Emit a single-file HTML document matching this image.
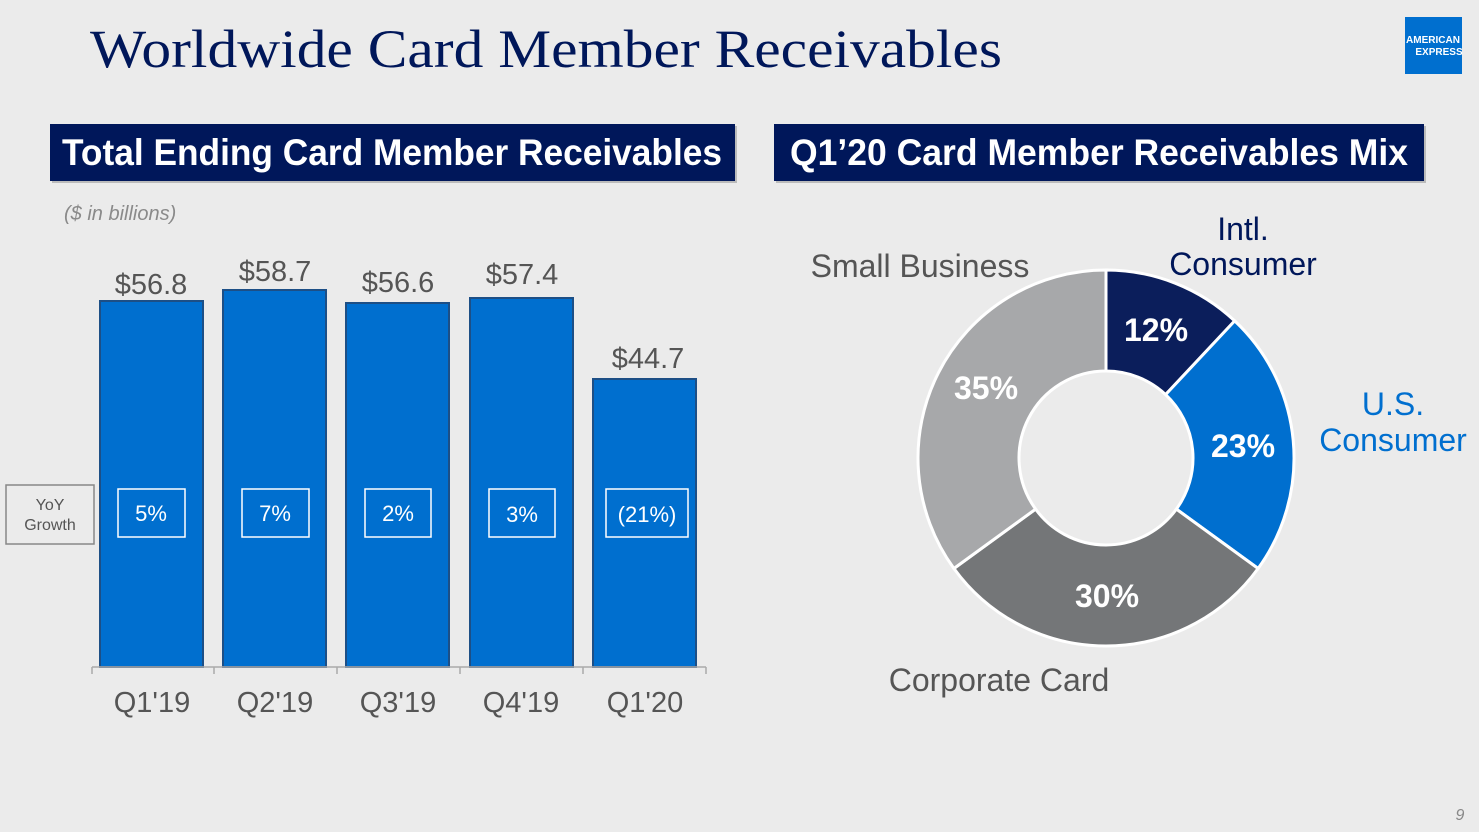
<!DOCTYPE html>
<html><head><meta charset="utf-8"><style>
body{margin:0;background:#ebebeb;}
svg{display:block}
</style></head><body>
<svg width="1479" height="832" viewBox="0 0 1479 832" xmlns="http://www.w3.org/2000/svg">
<rect width="1479" height="832" fill="#ebebeb"/>
<text x="90" y="67" font-family="Liberation Serif, serif" font-size="54" fill="#00175a" textLength="912" lengthAdjust="spacingAndGlyphs">Worldwide Card Member Receivables</text>
<rect x="1405" y="17" width="57" height="57" fill="#006fcf"/>
<text x="1433" y="43" font-family="Liberation Sans, sans-serif" font-size="10" font-weight="bold" fill="#fff" text-anchor="middle">AMERICAN</text>
<text x="1439" y="55" font-family="Liberation Sans, sans-serif" font-size="10" font-weight="bold" fill="#fff" text-anchor="middle">EXPRESS</text>
<rect x="52" y="126" width="685" height="57" fill="#bbb"/>
<rect x="50" y="124" width="685" height="57" fill="#00175a"/>
<text x="392" y="165" font-family="Liberation Sans, sans-serif" font-size="37" font-weight="bold" fill="#fff" text-anchor="middle" textLength="660" lengthAdjust="spacingAndGlyphs">Total Ending Card Member Receivables</text>
<rect x="776" y="126" width="650" height="57" fill="#bbb"/>
<rect x="774" y="124" width="650" height="57" fill="#00175a"/>
<text x="1099" y="165" font-family="Liberation Sans, sans-serif" font-size="37" font-weight="bold" fill="#fff" text-anchor="middle" textLength="618" lengthAdjust="spacingAndGlyphs">Q1’20 Card Member Receivables Mix</text>
<text x="64" y="220" font-family="Liberation Sans, sans-serif" font-size="20" font-style="italic" fill="#8a8a8a">($ in billions)</text>
<g fill="#006fcf" stroke="#1d4f86" stroke-width="2">
<rect x="100" y="301" width="103" height="366"/>
<rect x="223" y="290" width="103" height="377"/>
<rect x="346" y="303" width="103" height="364"/>
<rect x="470" y="298" width="103" height="369"/>
<rect x="593" y="379" width="103" height="288"/>
</g>
<g stroke="#aaa" stroke-width="1.5"><line x1="92" y1="667" x2="706" y2="667"/>
<line x1="92" y1="667" x2="92" y2="674"/><line x1="214" y1="667" x2="214" y2="674"/><line x1="337" y1="667" x2="337" y2="674"/><line x1="460" y1="667" x2="460" y2="674"/><line x1="583" y1="667" x2="583" y2="674"/><line x1="706" y1="667" x2="706" y2="674"/></g>
<g font-family="Liberation Sans, sans-serif" font-size="29" fill="#555" text-anchor="middle">
<text x="151" y="294">$56.8</text><text x="275" y="281">$58.7</text><text x="398" y="292">$56.6</text><text x="522" y="284">$57.4</text><text x="648" y="368">$44.7</text>
<text x="152" y="712">Q1'19</text><text x="275" y="712">Q2'19</text><text x="398" y="712">Q3'19</text><text x="521" y="712">Q4'19</text><text x="645" y="712">Q1'20</text>
</g>
<g fill="none" stroke="#fff" stroke-width="1.5">
<rect x="118" y="489" width="67" height="48"/><rect x="242" y="489" width="67" height="48"/><rect x="365" y="489" width="66" height="48"/><rect x="489" y="489" width="66" height="48"/><rect x="606" y="489" width="82" height="48"/>
</g>
<g font-family="Liberation Sans, sans-serif" font-size="22" fill="#fff" text-anchor="middle">
<text x="151" y="521">5%</text><text x="275" y="521">7%</text><text x="398" y="521">2%</text><text x="522" y="522">3%</text><text x="647" y="522">(21%)</text>
</g>
<rect x="6" y="485" width="88" height="59" fill="none" stroke="#888" stroke-width="1.5"/>
<text x="50" y="510" font-family="Liberation Sans, sans-serif" font-size="16" fill="#555" text-anchor="middle">YoY</text>
<text x="50" y="530" font-family="Liberation Sans, sans-serif" font-size="16" fill="#555" text-anchor="middle">Growth</text>
<g stroke="#fff" stroke-width="3">
<path d="M1106,270 A188,188 0 0 1 1234.7,320.9 L1165.6,394.6 A87,87 0 0 0 1106,371 Z" fill="#0b1e5b"/>
<path d="M1234.7,320.9 A188,188 0 0 1 1258.1,568.5 L1176.4,509.1 A87,87 0 0 0 1165.6,394.6 Z" fill="#006fcf"/>
<path d="M1258.1,568.5 A188,188 0 0 1 953.9,568.5 L1035.6,509.1 A87,87 0 0 0 1176.4,509.1 Z" fill="#747678"/>
<path d="M953.9,568.5 A188,188 0 0 1 1106,270 L1106,371 A87,87 0 0 0 1035.6,509.1 Z" fill="#a7a8aa"/>
</g>
<g font-family="Liberation Sans, sans-serif" font-size="32" font-weight="bold" fill="#fff" text-anchor="middle">
<text x="1156" y="341">12%</text><text x="1243" y="457">23%</text><text x="1107" y="607">30%</text><text x="986" y="399">35%</text>
</g>
<g font-family="Liberation Sans, sans-serif" font-size="32" text-anchor="middle">
<text x="920" y="277" fill="#555">Small Business</text>
<text x="1243" y="240" fill="#00175a">Intl.</text><text x="1243" y="275" fill="#00175a">Consumer</text>
<text x="1393" y="415" fill="#006fcf">U.S.</text><text x="1393" y="451" fill="#006fcf">Consumer</text>
<text x="999" y="691" fill="#555">Corporate Card</text>
</g>
<text x="1460" y="820" font-family="Liberation Sans, sans-serif" font-size="16" font-style="italic" fill="#888" text-anchor="middle">9</text>
</svg>
</body></html>
